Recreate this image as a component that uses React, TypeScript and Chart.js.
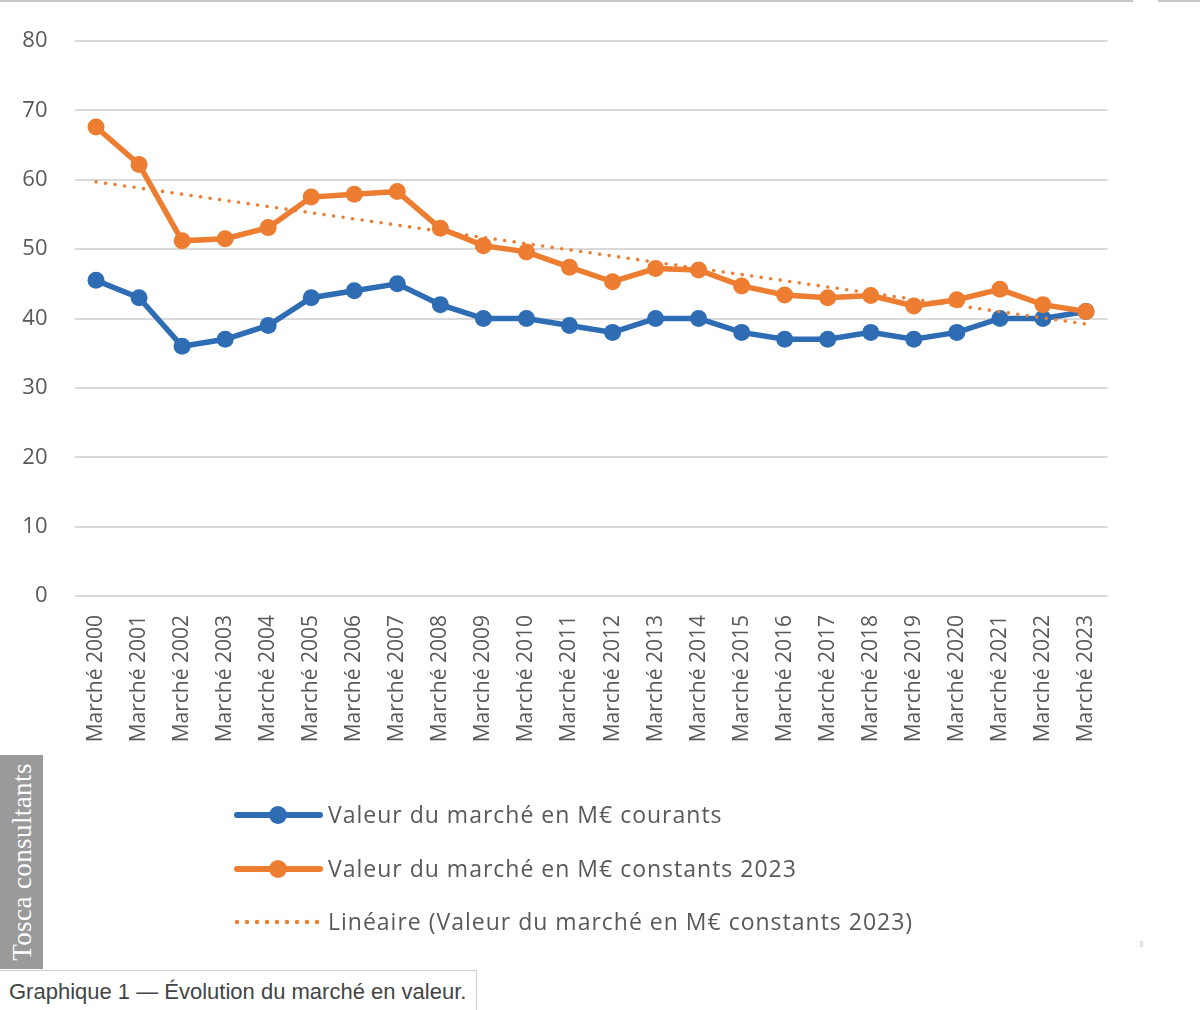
import React, { useEffect, useRef } from "react";
import { Chart, registerables } from "chart.js";

Chart.register(...registerables);

const years = [
  "2000", "2001", "2002", "2003", "2004", "2005", "2006", "2007", "2008", "2009", "2010", "2011",
  "2012", "2013", "2014", "2015", "2016", "2017", "2018", "2019", "2020", "2021", "2022", "2023",
];
const categories = years.map((y) => `Marché ${y}`);

const courants = [
  45.5, 43, 36, 37, 39, 43, 44, 45, 42, 40, 40, 39,
  38, 40, 40, 38, 37, 37, 38, 37, 38, 40, 40, 41,
];
const constants2023 = [
  67.6, 62.2, 51.2, 51.5, 53.1, 57.5, 57.9, 58.3, 53.0, 50.5, 49.6, 47.4,
  45.3, 47.2, 47.0, 44.7, 43.4, 43.0, 43.3, 41.8, 42.7, 44.2, 42.0, 41.0,
];
const trendStart = 59.7;
const trendEnd = 39.2;

const yMin = 0;
const yMax = 80;
const yStep = 10;

const legendLabels = [
  "Valeur du marché en M€ courants",
  "Valeur du marché en M€ constants 2023",
  "Linéaire (Valeur du marché en M€ constants 2023)",
];
const watermark = "Tosca consultants";
const caption = "Graphique 1 — Évolution du marché en valeur.";

const BLUE = "#2E6DB4";
const ORANGE = "#ED7D31";
const TEXT = "#595959";
const FONT = "'Open Sans', sans-serif";

const legendPlugin = {
  id: "customLegend",
  afterDraw(chart: any) {
    const ctx = chart.ctx as CanvasRenderingContext2D;
    const x0 = 237;
    const x1 = 320;
    const mx = 278;
    const tx = 328;
    const rows = [815, 869, 922];
    ctx.save();
    [BLUE, ORANGE].forEach((c, i) => {
      const y = rows[i];
      ctx.strokeStyle = c;
      ctx.lineWidth = 6;
      ctx.lineCap = "round";
      ctx.beginPath();
      ctx.moveTo(x0, y);
      ctx.lineTo(x1, y);
      ctx.stroke();
      ctx.fillStyle = c;
      ctx.beginPath();
      ctx.arc(mx, y, 9, 0, Math.PI * 2);
      ctx.fill();
    });
    ctx.fillStyle = ORANGE;
    for (let x = 237; x <= 318; x += 10) {
      ctx.beginPath();
      ctx.arc(x, rows[2], 2.2, 0, Math.PI * 2);
      ctx.fill();
    }
    ctx.fillStyle = TEXT;
    ctx.font = `23px ${FONT}`;
    (ctx as any).letterSpacing = "1px";
    ctx.textBaseline = "middle";
    ctx.textAlign = "left";
    legendLabels.forEach((t, i) => ctx.fillText(t, tx, rows[i] + 1));
    ctx.restore();
  },
};

export default function App() {
  const ref = useRef<HTMLCanvasElement | null>(null);

  useEffect(() => {
    if (!ref.current) return;
    const trendData = categories.map((_, i) =>
      i === 0 ? trendStart : i === categories.length - 1 ? trendEnd : null
    );
    const chart = new Chart(ref.current, {
      type: "line",
      data: {
        labels: categories,
        datasets: [
          {
            label: legendLabels[0],
            data: courants,
            borderColor: BLUE,
            backgroundColor: BLUE,
            borderWidth: 5.5,
            pointRadius: 8.5,
            pointBorderWidth: 0,
            pointBackgroundColor: BLUE,
            tension: 0,
            order: 2,
          },
          {
            label: legendLabels[1],
            data: constants2023,
            borderColor: ORANGE,
            backgroundColor: ORANGE,
            borderWidth: 5.5,
            pointRadius: 8.5,
            pointBorderWidth: 0,
            pointBackgroundColor: ORANGE,
            tension: 0,
            order: 1,
          },
          {
            label: legendLabels[2],
            data: trendData,
            borderColor: ORANGE,
            borderWidth: 3.6,
            borderDash: [0, 9.6],
            borderCapStyle: "round",
            pointRadius: 0,
            spanGaps: true,
            order: 0,
          },
        ],
      },
      options: {
        responsive: false,
        animation: false,
        layout: { padding: { left: 0, top: 41, right: 92.5, bottom: 204 } },
        plugins: { legend: { display: false }, tooltip: { enabled: false } },
        scales: {
          x: {
            offset: true,
            grid: { display: false, drawTicks: false },
            border: { display: false },
            ticks: {
              color: TEXT,
              font: { family: FONT, size: 21 },
              minRotation: 90,
              maxRotation: 90,
              padding: 19,
              autoSkip: false,
            },
            afterFit: (s: any) => {
              s.height = 160;
            },
          },
          y: {
            min: yMin,
            max: yMax,
            grid: { color: "#D9D9D9", lineWidth: 2, drawTicks: false },
            border: { display: false },
            ticks: {
              stepSize: yStep,
              color: TEXT,
              font: { family: FONT, size: 22 },
              padding: 27,
            },
            afterFit: (s: any) => {
              s.width = 74.5;
            },
          },
        },
      },
      plugins: [legendPlugin],
    });
    return () => chart.destroy();
  }, []);

  return (
    <div style={{ position: "absolute", left: 0, top: 0, width: 1200, height: 1010, background: "#fff", overflow: "hidden" }}>
      <div style={{ position: "absolute", left: 0, top: 0, width: 1133, height: 2, background: "#C8C8C8" }} />
      <div style={{ position: "absolute", left: 1158, top: 0, width: 42, height: 2, background: "#C8C8C8" }} />
      <canvas ref={ref} width={1200} height={960} style={{ position: "absolute", left: 0, top: 0 }} />
      <div
        style={{
          position: "absolute",
          left: 0,
          top: 755,
          width: 43,
          height: 214,
          background: "#9A9A9A",
        }}
      >
        <div
          style={{
            position: "absolute",
            left: 22,
            top: 107,
            transform: "translate(-50%, -50%) rotate(-90deg)",
            whiteSpace: "nowrap",
            color: "#fff",
            fontFamily: "'Liberation Serif', serif",
            fontSize: 27,
            letterSpacing: "0.4px",
            lineHeight: "30px",
          }}
        >
          {watermark}
        </div>
      </div>
      <div
        style={{
          position: "absolute",
          left: 0,
          top: 970,
          width: 477,
          height: 40,
          borderTop: "1px solid #CFCFCF",
          borderRight: "1px solid #CFCFCF",
          boxSizing: "border-box",
          color: "#444",
          fontFamily: "'Liberation Sans', Arial, sans-serif",
          fontSize: 22,
          lineHeight: "42px",
          paddingLeft: 9,
          whiteSpace: "nowrap",
        }}
      >
        {caption}
      </div>
      <div style={{ position: "absolute", left: 1140, top: 941, width: 3, height: 6, background: "#E0E0E0" }} />
    </div>
  );
}
